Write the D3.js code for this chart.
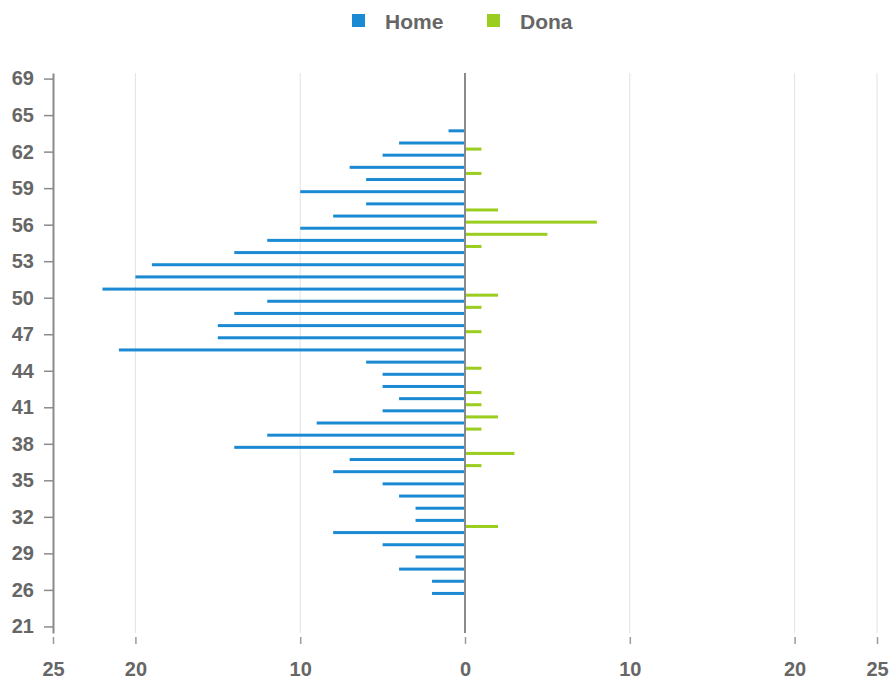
<!DOCTYPE html>
<html>
<head>
<meta charset="utf-8">
<script src="https://cdn.jsdelivr.net/npm/d3@7"></script>
<style>
  html, body { margin: 0; padding: 0; background: #ffffff; }
  svg { display: block; font-family: "Liberation Sans", Arial, sans-serif; }
</style>
</head>
<body>
<svg id="chart" width="891" height="679"></svg>
<script>
// ---- data ----
const ages = [21, 22, 24,
  26, 27, 28, 29, 30, 31, 32, 33, 34, 35,
  36, 37, 38, 39, 40, 41, 42, 43, 44, 45,
  46, 47, 48, 49, 50, 51, 52, 53, 54, 55,
  56, 57, 58, 59, 60, 61, 62, 63, 64, 65,
  66, 68, 69];
const home = [0, 0, 0,
  2, 2, 4, 3, 5, 8, 3, 3, 4, 5,
  8, 7, 14, 12, 9, 5, 4, 5, 5, 6,
  21, 15, 15, 14, 12, 22, 20, 19, 14, 12,
  10, 8, 6, 10, 6, 7, 5, 4, 1, 0,
  0, 0, 0];
const dona = [0, 0, 0,
  0, 0, 0, 0, 0, 2, 0, 0, 0, 0,
  1, 3, 0, 1, 2, 1, 1, 0, 1, 0,
  0, 1, 0, 1, 2, 0, 0, 0, 1, 5,
  8, 2, 0, 0, 1, 0, 1, 0, 0, 0,
  0, 0, 0];
const seriesNames = ["Home", "Dona"];
const xTicks = [-25, -20, -10, 0, 10, 20, 25];
const gridTicks = [-20, -10, 10, 20, 25];

const colors = { Home: "#1b8ad3", Dona: "#9acd1e" };
const textColor = "#666666";
const axisColor = "#8a8a8a";

(function draw() {
  const svg = d3.select("#chart");
  const mLeft = 53, mRight = 877, mTop = 73, mBottom = 633;

  const x = d3.scaleLinear().domain([-25, 25]).range([mLeft, mRight]);
  const topDown = ages.slice().reverse();
  const y = d3.scaleBand().domain(topDown).range([mTop, mBottom]).padding(0);
  const sub = d3.scaleBand().domain(["Dona", "Home"]).range([0, y.bandwidth()]).padding(0);

  // gridlines
  svg.append("g").selectAll("line").data(gridTicks).join("line")
    .attr("x1", d => x(d)).attr("x2", d => x(d))
    .attr("y1", mTop).attr("y2", mBottom)
    .attr("stroke", "#e2e2e2").attr("stroke-width", 1);

  // bars
  const rows = ages.map((a, i) => ({ age: a, Home: home[i], Dona: dona[i] }));
  const barH = 3;
  svg.append("g").selectAll("rect").data(rows.filter(d => d.Home > 0)).join("rect")
    .attr("x", d => x(-d.Home)).attr("width", d => x(0) - x(-d.Home))
    .attr("y", d => y(d.age) + sub("Home") + sub.bandwidth() / 2 - barH / 2)
    .attr("height", barH).attr("fill", colors.Home);
  svg.append("g").selectAll("rect").data(rows.filter(d => d.Dona > 0)).join("rect")
    .attr("x", x(0)).attr("width", d => x(d.Dona) - x(0))
    .attr("y", d => y(d.age) + sub("Dona") + sub.bandwidth() / 2 - barH / 2)
    .attr("height", barH).attr("fill", colors.Dona);

  // zero line
  svg.append("line")
    .attr("x1", x(0)).attr("x2", x(0)).attr("y1", mTop).attr("y2", mBottom)
    .attr("stroke", axisColor).attr("stroke-width", 2);

  // y axis
  const yAxis = d3.axisLeft(y)
    .tickValues(topDown.filter((d, i) => i % 3 === 0))
    .tickSize(9).tickPadding(10).tickSizeOuter(0);
  const gy = svg.append("g").attr("transform", `translate(${mLeft},0)`).call(yAxis);
  gy.select(".domain").attr("stroke", axisColor).attr("stroke-width", 2);
  gy.selectAll(".tick line").attr("stroke", axisColor).attr("stroke-width", 1.5);
  gy.selectAll(".tick text").attr("fill", textColor)
    .style("font-size", "20px").style("font-weight", "bold")
    .style("font-family", "'Liberation Sans', Arial, sans-serif");

  // x axis
  const xAxis = d3.axisBottom(x).tickValues(xTicks)
    .tickFormat(d => Math.abs(d)).tickSize(7).tickPadding(18);
  const gx = svg.append("g").attr("transform", `translate(0,${mBottom + 4})`).call(xAxis);
  gx.select(".domain").remove();
  gx.selectAll(".tick line").attr("stroke", "#9a9a9a").attr("stroke-width", 1.5);
  gx.selectAll(".tick text").attr("fill", textColor)
    .style("font-size", "20px").style("font-weight", "bold")
    .style("font-family", "'Liberation Sans', Arial, sans-serif");

  // legend
  const legendX = { Home: 352, Dona: 487 };
  const lg = svg.append("g");
  seriesNames.forEach(name => {
    lg.append("rect").attr("x", legendX[name]).attr("y", 14)
      .attr("width", 13).attr("height", 13).attr("fill", colors[name]);
    lg.append("text").attr("x", legendX[name] + 33).attr("y", 28.5)
      .attr("fill", textColor).style("font-size", "21px").style("font-weight", "bold")
      .text(name);
  });
})();
</script>
</body>
</html>
